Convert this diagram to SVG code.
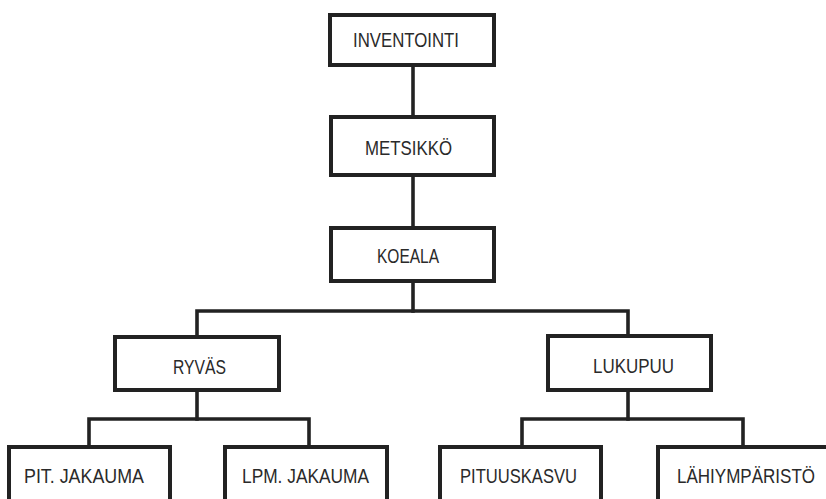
<svg xmlns="http://www.w3.org/2000/svg" width="826" height="499" viewBox="0 0 826 499">
  <style>
    .box { fill: #ffffff; stroke: #222222; stroke-width: 4; }
    .link { fill: none; stroke: #222222; stroke-width: 3.6; stroke-linejoin: miter; stroke-linecap: square; }
    .label { font-family: "Liberation Sans", Arial, sans-serif; font-size: 20.5px; fill: #2a2a2a; }
  </style>
  <rect width="826" height="499" fill="#ffffff"/>

  <!-- connectors -->
  <g id="connectors">
    <path class="link" d="M413 65 V117"/>
    <path class="link" d="M413 175 V228"/>
    <path class="link" d="M413 281 V311"/>
    <path class="link" d="M197 337 V311 H628 V336"/>
    <path class="link" d="M197 390 V419"/>
    <path class="link" d="M89 447 V419 H309 V447"/>
    <path class="link" d="M628 390 V419"/>
    <path class="link" d="M522 447 V419 H743 V447"/>
  </g>

  <g id="inventointi">
    <rect class="box" x="330" y="15" width="164" height="50"/>
    <text class="label" x="353" y="47" textLength="106" lengthAdjust="spacingAndGlyphs">INVENTOINTI</text>
  </g>
  <g id="metsikko">
    <rect class="box" x="331" y="117" width="163" height="58"/>
    <text class="label" x="365" y="155" textLength="87" lengthAdjust="spacingAndGlyphs">METSIKKÖ</text>
  </g>
  <g id="koeala">
    <rect class="box" x="331" y="228" width="163" height="53"/>
    <text class="label" x="377" y="263" textLength="62" lengthAdjust="spacingAndGlyphs">KOEALA</text>
  </g>
  <g id="ryvas">
    <rect class="box" x="115" y="337" width="164" height="53"/>
    <text class="label" x="173" y="374" textLength="53" lengthAdjust="spacingAndGlyphs">RYVÄS</text>
  </g>
  <g id="lukupuu">
    <rect class="box" x="548" y="336" width="163" height="54"/>
    <text class="label" x="593" y="373" textLength="81" lengthAdjust="spacingAndGlyphs">LUKUPUU</text>
  </g>
  <g id="pit-jakauma">
    <rect class="box" x="9" y="447" width="161" height="70"/>
    <text class="label" x="24" y="483" textLength="120" lengthAdjust="spacingAndGlyphs">PIT. JAKAUMA</text>
  </g>
  <g id="lpm-jakauma">
    <rect class="box" x="225" y="447" width="162" height="70"/>
    <text class="label" x="242" y="483" textLength="127" lengthAdjust="spacingAndGlyphs">LPM. JAKAUMA</text>
  </g>
  <g id="pituuskasvu">
    <rect class="box" x="440" y="447" width="161" height="70"/>
    <text class="label" x="460" y="483" textLength="117" lengthAdjust="spacingAndGlyphs">PITUUSKASVU</text>
  </g>
  <g id="lahiymparisto">
    <rect class="box" x="658" y="447" width="190" height="70"/>
    <text class="label" x="677" y="483" textLength="138" lengthAdjust="spacingAndGlyphs">LÄHIYMPÄRISTÖ</text>
  </g>
</svg>
